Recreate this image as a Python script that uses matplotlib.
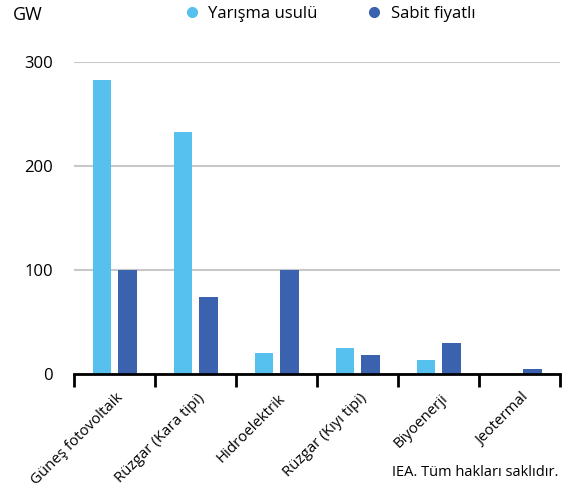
import matplotlib.pyplot as plt
import matplotlib.transforms as mtransforms
import numpy as np

plt.rcParams['font.family'] = ['Open Sans', 'DejaVu Sans']

categories = ["Güneş fotovoltaik", "Rüzgar (Kara tipi)", "Hidroelektrik",
              "Rüzgar (Kıyı tipi)", "Biyoenerji", "Jeotermal"]
auction = [283, 233, 20, 25, 13, 0]
fixed = [100, 74, 100, 18, 30, 4.5]
series_names = ["Yarışma usulü", "Sabit fiyatlı"]
light = "#56c1ee"
dark = "#3a62ae"

W, H = 568, 492
fig = plt.figure(figsize=(W / 100, H / 100), dpi=100)
# axes box in pixels: left 74, right 560, bottom 374, top 62
ax = fig.add_axes([74 / W, 1 - 374 / H, (560 - 74) / W, (374 - 62) / H])

x = np.arange(len(categories))
w = 0.23
ax.bar(x - 0.155, auction, w, color=light, zorder=3)
ax.bar(x + 0.16, fixed, w, color=dark, zorder=3)

ax.set_xlim(-0.5, len(categories) - 0.5)
ax.set_ylim(0, 300)
ax.set_yticks([0, 100, 200, 300])
ax.tick_params(axis='y', length=0, labelsize=12, pad=15)
ax.yaxis.grid(True, color="#c8c8c8", linewidth=1.5, zorder=0)
ax.set_axisbelow(True)
for s in ["top", "right", "left"]:
    ax.spines[s].set_visible(False)
ax.spines["bottom"].set_linewidth(2)
ax.spines["bottom"].set_zorder(4)

ax.set_xticks(x)
ax.set_xticklabels(categories, rotation=45, ha="right", rotation_mode="anchor", fontsize=10.8)
ax.tick_params(axis='x', which='major', length=0, pad=12)
ax.set_xticks(np.arange(-0.5, len(categories)), minor=True)
ax.tick_params(axis='x', which='minor', length=9, width=2, direction='out', color='black')

shift = mtransforms.ScaledTranslation(1 / 72, 0, fig.dpi_scale_trans)
for t in ax.get_xticklabels():
    t.set_transform(t.get_transform() + shift)

fig.text(13 / W, 1 - 15 / H, "GW", fontsize=13, va="center")

handles = [plt.Line2D([], [], marker="o", linestyle="", color=c, markersize=7) for c in (light, dark)]
fig.legend(handles, series_names, loc="center left", bbox_to_anchor=(185 / W, 1 - 14 / H),
           ncol=2, frameon=False, fontsize=12, borderpad=0, borderaxespad=0,
           handlelength=0.8, handletextpad=0.6, columnspacing=3.0)

fig.text(558 / W, 1 - 472 / H, "IEA. Tüm hakları saklıdır.", fontsize=10.5, ha="right", va="center")

fig.savefig("out.png", dpi=100)
